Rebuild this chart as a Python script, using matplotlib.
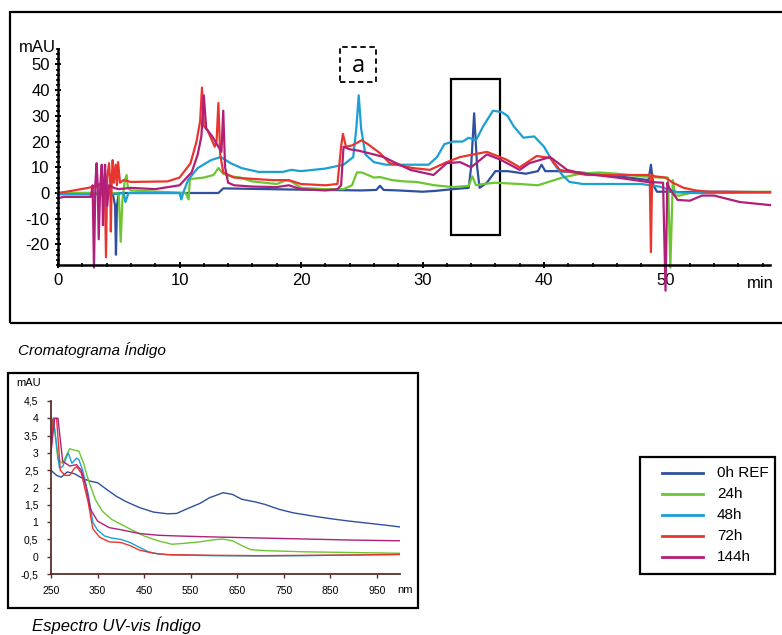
import matplotlib
matplotlib.use("Agg")
import matplotlib.pyplot as plt
from matplotlib.patches import Rectangle
from matplotlib.lines import Line2D
from matplotlib.ticker import MultipleLocator, FuncFormatter

plt.rcParams['font.family'] = ['Liberation Sans', 'DejaVu Sans']
plt.rcParams['axes.unicode_minus'] = False

labels = ['0h REF', '24h', '48h', '72h', '144h']
colors = ['#2f4f9f', '#6cc631', '#1c9fd3', '#e8362f', '#b11f78']

# chromatogram traces (time in min, signal in mAU)
t_ref = [0, 2, 4.5, 4.7, 4.77, 4.85, 5.0, 8, 13.2, 13.6, 16, 20, 25, 26.2, 26.5, 26.8, 28, 30, 31, 32.5,
         33.8, 34.0, 34.25, 34.5, 34.7, 35.3, 36.0, 37, 38.5, 39.5, 39.8, 40.1, 41, 43, 45, 47, 48.6, 48.8,
         49.0, 49.3, 50.5, 51, 53, 55, 58.6]
y_ref = [0, 0, 0, -5, -24, -5, 0, 0, 0, 1.8, 1.6, 1.3, 1.0, 1.2, 2.8, 1.2, 1.0, 0.5, 0.8, 1.5,
         2.0, 10, 31, 10, 2, 4, 8.5, 8.5, 7.5, 8.5, 11, 8.5, 8.5, 8, 7, 6, 5, 11,
         3, 0.5, 0.5, 0.3, 0.5, 0.5, 0.3]

t_24 = [0, 5.0, 5.16, 5.3, 5.5, 5.65, 5.75, 6, 10.5, 10.75, 10.85, 11, 12, 12.8, 13.2, 13.6, 14.2, 15, 16,
        17, 18, 18.8, 19.2, 20, 22, 23.5, 24.2, 24.6, 25.0, 25.5, 26.0, 26.5, 27.5, 28.5, 29.5, 31, 32.5,
        33.8, 34.1, 34.4, 35, 36, 38, 39.5, 40.5, 41.5, 43, 44.5, 46, 48, 49.5, 50.2, 50.4, 50.6, 50.8,
        51.2, 52, 54, 58.6]
y_24 = [0, 0, -19, -3, 5, 7, 2, 1, 0, -2.5, 5, 5.5, 6, 7, 9.7, 7.5, 6.5, 6, 4.5,
        4, 3.5, 5, 4.5, 2, 1.5, 1.5, 3, 8, 8, 7, 6, 6.2, 5, 4.5, 4.3, 3, 2.3,
        2.8, 6.5, 3, 3.5, 4, 3.5, 3, 4.5, 6, 7.5, 8, 7.5, 6.5, 6, 6, -29, 5, -1,
        -1, 0, 0.3, 0.5]

t_48 = [0, 4.5, 5.4, 5.55, 5.8, 10.0, 10.15, 10.3, 10.7, 11.5, 12.6, 13.4, 14.2, 15.1, 16.5, 18.5, 19.2,
        20, 22, 23.5, 24.3, 24.55, 24.75, 24.95, 25.3, 26, 27, 28, 29.5, 30.5, 31.2, 31.8, 32.5, 33.3,
        33.8, 34.4, 35.0, 35.8, 36.5, 37.0, 37.5, 38.3, 39.2, 40.0, 40.8, 41.5, 42.1, 43.2, 45, 48,
        49.5, 50.5, 51, 52, 55, 58.6]
y_48 = [-0.5, -0.5, 0, -3.5, 0, 0, -2.5, 0, 5, 9.7, 12.8, 14, 11.6, 9.7, 8.2, 8.2, 9,
        8.5, 9.5, 11, 14, 25, 38, 25, 15, 12, 11, 11, 11, 11, 14, 19, 20, 20,
        21.5, 20.5, 26, 32, 31.5, 30, 26, 21.5, 22, 18, 11.5, 7, 4.3, 3.5, 3.5, 3.5,
        2.5, 1, 0.3, 0, 0, 0.3]

t_72 = [0, 0.7, 2.5, 3.3, 3.85, 3.95, 4.05, 4.2, 4.3, 4.35, 4.42, 4.5, 4.6, 4.75, 4.85, 4.95, 5.1, 5.4,
        6, 9, 10, 10.9, 11.4, 11.7, 11.85, 12.0, 12.3, 12.9, 13.05, 13.2, 13.35, 13.6, 14.5, 16, 17.7,
        19, 20, 22, 23.0, 23.3, 23.45, 23.7, 24.2, 25.0, 25.5, 26.5, 27.3, 29.2, 30.6, 32, 33.1, 34.2,
        35.3, 36.9, 38, 39.4, 40.5, 41.3, 43.5, 46, 48.5, 48.7, 48.8, 48.9, 49.1, 50, 50.6, 51.5, 52.5,
        53.5, 58.6]
y_72 = [0, 0.5, 2, 3, 5, -25, 6, 11.6, 4, -15, 5, 12.8, 4, 11, 3, 12, 4, 5,
        4.3, 4.5, 6, 11.5, 20, 28, 41, 26, 24.5, 18, 20, 35, 15, 8, 6, 5.5, 5,
        5, 3.5, 3, 3.5, 18, 23, 18, 18.5, 20.5, 19, 15.5, 11.6, 9.7, 9, 12, 14, 15,
        16, 13, 10, 14.4, 13.6, 9, 7, 7, 7, 7, -23, 7, 6.5, 6, 4, 2, 1,
        0.5, 0.3]

t_144 = [0, 0.5, 2.7, 2.85, 2.96, 3.08, 3.18, 3.27, 3.35, 3.48, 3.6, 3.65, 3.7, 3.78, 3.87, 3.95, 4.05,
         4.2, 4.6, 5, 6, 8, 10, 11, 11.5, 11.8, 12.0, 12.2, 12.7, 13.2, 13.45, 13.6, 13.75, 14.0, 14.5,
         16, 18, 19, 20, 22, 23, 23.3, 23.5, 24, 24.7, 26, 26.8, 28.1, 29, 30.9, 32, 33.1, 34, 35.3,
         36.4, 38, 38.8, 40.5, 41.9, 43, 46, 48.5, 49.8, 50.0, 50.15, 50.3, 51, 52, 53, 54, 56.1, 58.6]
y_144 = [-2, -1.5, -1.5, 3, -29, 4, 11.6, 3, -18, 3, 11, 2, -12.5, 2, 11, 3, -5,
         3, 2, 1.5, 2, 1.5, 3, 8, 15, 22, 38, 25, 22, 18, 16, 32, 10, 4, 3,
         2.5, 2.3, 3, 1.5, 1, 1.5, 3, 18, 17, 16.5, 15, 14, 11, 9, 7, 11.6, 12, 10, 15,
         13, 9, 11.6, 14, 9, 7.7, 6, 4.3, 4, -38, 4, 2, -2.7, -3, -1, -1, -3.5, -4.7]

# UV-vis spectra (nm, mAU)
wl_ref = [250, 262, 272, 285, 300, 320, 335, 350, 370, 390, 410, 440, 470, 500, 520, 540, 570, 590, 620,
          640, 660, 690, 710, 740, 770, 810, 850, 890, 930, 970, 1000]
a_ref = [2.5, 2.35, 2.3, 2.45, 2.4, 2.25, 2.18, 2.14, 1.94, 1.75, 1.6, 1.42, 1.29, 1.24, 1.25, 1.37, 1.54,
         1.7, 1.85, 1.8, 1.66, 1.58, 1.51, 1.37, 1.27, 1.18, 1.1, 1.03, 0.97, 0.91, 0.86]
wl_24 = [250, 255, 265, 275, 290, 300, 310, 320, 330, 345, 360, 380, 400, 420, 450, 480, 510, 540, 570,
         600, 620, 640, 660, 680, 720, 800, 900, 1000]
a_24 = [3.3, 4.0, 2.8, 2.7, 3.12, 3.08, 3.05, 2.7, 2.23, 1.66, 1.32, 1.08, 0.94, 0.8, 0.6, 0.46, 0.36, 0.39,
        0.43, 0.49, 0.51, 0.46, 0.32, 0.2, 0.17, 0.14, 0.12, 0.1]
wl_48 = [250, 255, 268, 275, 287, 295, 305, 310, 318, 330, 340, 350, 365, 380, 400, 420, 440, 460, 480,
         510, 600, 700, 800, 900, 1000]
a_48 = [3.8, 4.0, 2.57, 2.6, 3.0, 2.7, 2.85, 2.8, 2.5, 1.8, 0.99, 0.77, 0.6, 0.54, 0.5, 0.41, 0.27, 0.14,
        0.08, 0.05, 0.03, 0.02, 0.03, 0.05, 0.06]
wl_72 = [250, 255, 262, 270, 280, 290, 300, 305, 315, 330, 340, 355, 375, 400, 420, 440, 470, 500, 600,
         700, 800, 900, 1000]
a_72 = [3.0, 4.0, 4.0, 2.5, 2.35, 2.35, 2.55, 2.6, 2.42, 1.56, 0.8, 0.56, 0.43, 0.41, 0.32, 0.19, 0.1,
        0.06, 0.04, 0.03, 0.04, 0.05, 0.07]
wl_144 = [250, 258, 265, 275, 290, 305, 315, 325, 335, 350, 375, 400, 440, 480, 520, 600, 700, 800, 900,
          1000]
a_144 = [3.05, 4.0, 4.0, 2.76, 2.62, 2.66, 2.5, 2.04, 1.37, 1.03, 0.84, 0.78, 0.67, 0.62, 0.6, 0.57, 0.54,
         0.51, 0.48, 0.46]

chrom = [(t_ref, y_ref), (t_24, y_24), (t_48, y_48), (t_72, y_72), (t_144, y_144)]
spec = [(wl_ref, a_ref), (wl_24, a_24), (wl_48, a_48), (wl_72, a_72), (wl_144, a_144)]

W, H = 782, 635
fig = plt.figure(figsize=(W / 100, H / 100), dpi=100)


def fx(px):
    return px / W


def fy(py):
    return 1 - py / H


# outer frames
fig.add_artist(Rectangle((fx(10), fy(323)), 1.0, fy(12) - fy(323), transform=fig.transFigure,
                         fill=False, lw=1.6, ec='black'))
fig.add_artist(Rectangle((fx(8), fy(608)), fx(418) - fx(8), fy(373) - fy(608), transform=fig.transFigure,
                         fill=False, lw=1.6, ec='black'))

# --- chromatogram ---
ax = fig.add_axes([fx(58), fy(265), fx(770) - fx(58), fy(49) - fy(265)])
for (t, y), c in zip(chrom, colors):
    ax.plot(t, y, color=c, lw=1.6, clip_on=False)
ax.set_xlim(0, 58.6)
ax.set_ylim(-28, 56)
ax.xaxis.set_minor_locator(MultipleLocator(2))
ax.yaxis.set_minor_locator(MultipleLocator(2))
ax.set_xticks([0, 10, 20, 30, 40, 50])
ax.set_yticks([-20, -10, 0, 10, 20, 30, 40, 50])
ax.spines[['top', 'right']].set_visible(False)
ax.spines[['left', 'bottom']].set_linewidth(1.8)
ax.tick_params(which='major', labelsize=12, width=1.4, length=5, direction='inout')
ax.tick_params(which='minor', width=1.2, length=3, direction='inout')
ax.patch.set_alpha(0)
fig.text(fx(37), fy(47), 'mAU', fontsize=12, ha='center', va='center')
fig.text(fx(760), fy(283), 'min', fontsize=12, ha='center', va='center')
ax.add_patch(Rectangle((32.35, -16.3), 4.05, 60.7, fill=False, lw=1.6, ec='black', clip_on=False))
fig.add_artist(Rectangle((fx(340), fy(82)), fx(376) - fx(340), fy(47) - fy(82), transform=fig.transFigure,
                         fill=False, lw=1.3, ec='black', ls=(0, (3, 2))))
fig.text(fx(358), fy(66), 'a', fontsize=17, family='Open Sans', ha='center', va='center')
fig.text(fx(18), fy(350), 'Cromatograma Índigo', fontsize=11, style='italic', ha='left', va='center')

# --- UV-vis spectrum ---
ax2 = fig.add_axes([fx(51), fy(574), fx(400) - fx(51), fy(401) - fy(574)])
for (w, a), c in zip(spec, colors):
    ax2.plot(w, a, color=c, lw=1.0)
ax2.set_xlim(250, 1000)
ax2.set_ylim(-0.5, 4.5)
ax2.set_xticks(range(250, 1000, 100))
ax2.yaxis.set_major_locator(MultipleLocator(0.5))
ax2.yaxis.set_major_formatter(FuncFormatter(lambda v, p: f'{v:g}'.replace('.', ',')))
ax2.spines[['top', 'right']].set_visible(False)
ax2.spines[['left', 'bottom']].set_color('#5a2e2a')
ax2.spines[['left', 'bottom']].set_linewidth(1.3)
ax2.tick_params(labelsize=7.5, length=3, width=1, color='#5a2e2a', pad=6)
ax2.patch.set_alpha(0)
fig.text(fx(29), fy(383), 'mAU', fontsize=8, ha='center', va='center')
fig.text(fx(405), fy(590), 'nm', fontsize=8, ha='center', va='center')
fig.text(fx(32), fy(625), 'Espectro UV-vis Índigo', fontsize=12, style='italic', ha='left', va='center')

# legend box
fig.add_artist(Rectangle((fx(640), fy(574)), fx(775) - fx(640), fy(457) - fy(574), transform=fig.transFigure,
                         fill=False, lw=1.6, ec='black'))
for i, (lab, c) in enumerate(zip(labels, colors)):
    yy = fy(473 + 21 * i)
    fig.add_artist(Line2D([fx(662), fx(703)], [yy, yy], transform=fig.transFigure, color=c, lw=2))
    fig.text(fx(717), yy, lab, fontsize=11, ha='left', va='center')

fig.savefig('out.png', dpi=100)
